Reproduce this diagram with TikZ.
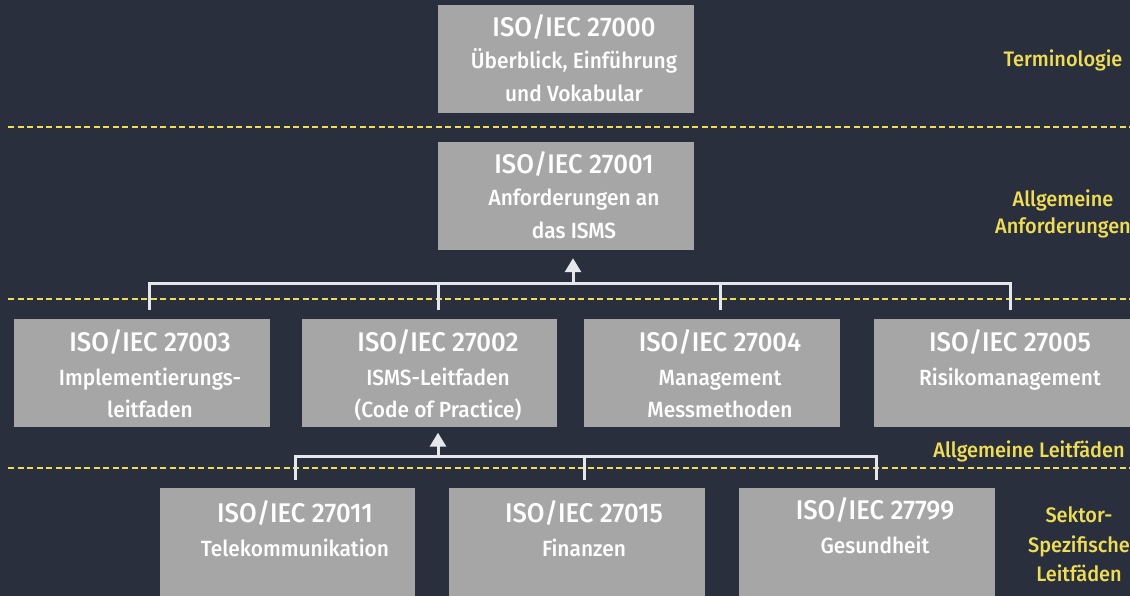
\documentclass[tikz,border=0pt]{standalone}
\usepackage{fontspec}
\IfFontExistsTF{Fira Sans Medium}{\setmainfont{Fira Sans Medium}[FakeStretch=0.95]}{\setmainfont{Fira Sans}[FakeStretch=0.98,FakeBold=1.2]}
\usetikzlibrary{arrows.meta}
\definecolor{bg}{HTML}{2A2F3E}
\definecolor{boxgray}{HTML}{A6A6A6}
\definecolor{lbl}{HTML}{EEDD55}
\definecolor{conncol}{HTML}{E4E7EC}
\begin{document}
\begin{tikzpicture}[x=1pt,y=-1pt,
 box/.style={fill=boxgray, inner sep=0pt, draw=none, minimum width=256pt, minimum height=108pt},
 ttl/.style={text=white, anchor=base, inner sep=0pt, font=\fontsize{27}{30}\selectfont},
 sub/.style={text=white, anchor=base, inner sep=0pt, font=\fontsize{22}{26}\selectfont},
 lab/.style={text=lbl, anchor=base, inner sep=0pt, font=\fontsize{21}{24}\selectfont},
 sep/.style={draw=lbl, line width=1.8pt, dash pattern=on 6pt off 3.5pt},
 conn/.style={draw=conncol, line width=3pt},
 arr/.style={conn, -{Triangle[width=16pt,length=14pt]}}]
\fill[bg] (0,0) rectangle (1130,596);
\useasboundingbox (0,0) rectangle (1130,596);
% separators
\draw[sep] (8,127) -- (1130,127);
\draw[sep] (8,299) -- (1130,299);
\draw[sep] (8,468) -- (1130,468);
% boxes
\node[box] (b0) at (566,59) {};
\node[box] (b1) at (566,196) {};
\node[box] (b3) at (142,372.5) {};
\node[box, minimum width=255pt] (b2) at (429.5,372.5) {};
\node[box] (b4) at (712,372.5) {};
\node[box] (b5) at (1002,372.5) {};
\node[box, minimum width=255pt] (b11) at (287.5,542) {};
\node[box] (b15) at (577,542) {};
\node[box] (b99) at (867,541.5) {};
% texts
\node[ttl] (t0a) at (574,37) {ISO/IEC 27000};
\node[sub] (t0b) at (574,69) {Überblick, Einführung};
\node[sub] (t0c) at (574,102) {und Vokabular};
\node[ttl] (t1a) at (574,174) {ISO/IEC 27001};
\node[sub] (t1b) at (574,206) {Anforderungen an};
\node[sub] (t1c) at (574,239) {das ISMS};
\node[ttl] (t3a) at (150,351) {ISO/IEC 27003};
\node[sub] (t3b) at (150,385) {Implementierungs-};
\node[sub] (t3c) at (150,417) {leitfaden};
\node[ttl] (t2a) at (438,351) {ISO/IEC 27002};
\node[sub] (t2b) at (438,385) {ISMS-Leitfaden};
\node[sub] (t2c) at (438,417) {(Code of Practice)};
\node[ttl] (t4a) at (720,351) {ISO/IEC 27004};
\node[sub] (t4b) at (720,385) {Management};
\node[sub] (t4c) at (720,417) {Messmethoden};
\node[ttl] (t5a) at (1010,351) {ISO/IEC 27005};
\node[sub] (t5b) at (1010,385) {Risikomanagement};
\node[ttl] (t11a) at (295,522) {ISO/IEC 27011};
\node[sub] (t11b) at (295,556) {Telekommunikation};
\node[ttl] (t15a) at (584,522) {ISO/IEC 27015};
\node[sub] (t15b) at (584,556) {Finanzen};
\node[ttl] (t99a) at (875,519) {ISO/IEC 27799};
\node[sub] (t99b) at (875,553) {Gesundheit};
% labels
\node[lab] (l1) at (1063,67) {Terminologie};
\node[lab] (l2a) at (1063,207) {Allgemeine};
\node[lab] (l2b) at (1063,234) {Anforderungen};
\node[lab] (l3) at (1029,457) {Allgemeine Leitfäden};
\node[lab] (l4a) at (1079,522) {Sektor-};
\node[lab] (l4b) at (1079,552) {Spezifische};
\node[lab] (l4c) at (1079,581) {Leitfäden};
% connectors upper
\coordinate (j1) at (573,283);
\coordinate (d3) at (149,310);
\coordinate (d2) at (438,310);
\coordinate (d4) at (720,310);
\coordinate (d5) at (1010,310);
\draw[conn] (d3) |- (j1) -| (d5);
\draw[conn] (d2) -- (d2 |- j1);
\draw[conn] (d4) -- (d4 |- j1);
\draw[arr, shorten >=8pt] (j1) -- (j1 |- b1.south);
% connectors lower
\coordinate (j2) at (438,456);
\coordinate (e11) at (295,480);
\coordinate (e15) at (584,480);
\coordinate (e99) at (876,480);
\draw[conn] (e11) |- (j2) -| (e99);
\draw[conn] (e15) -- (e15 |- j2);
\draw[arr, shorten >=6pt] (j2) -- (j2 |- b2.south);
\end{tikzpicture}
\end{document}
